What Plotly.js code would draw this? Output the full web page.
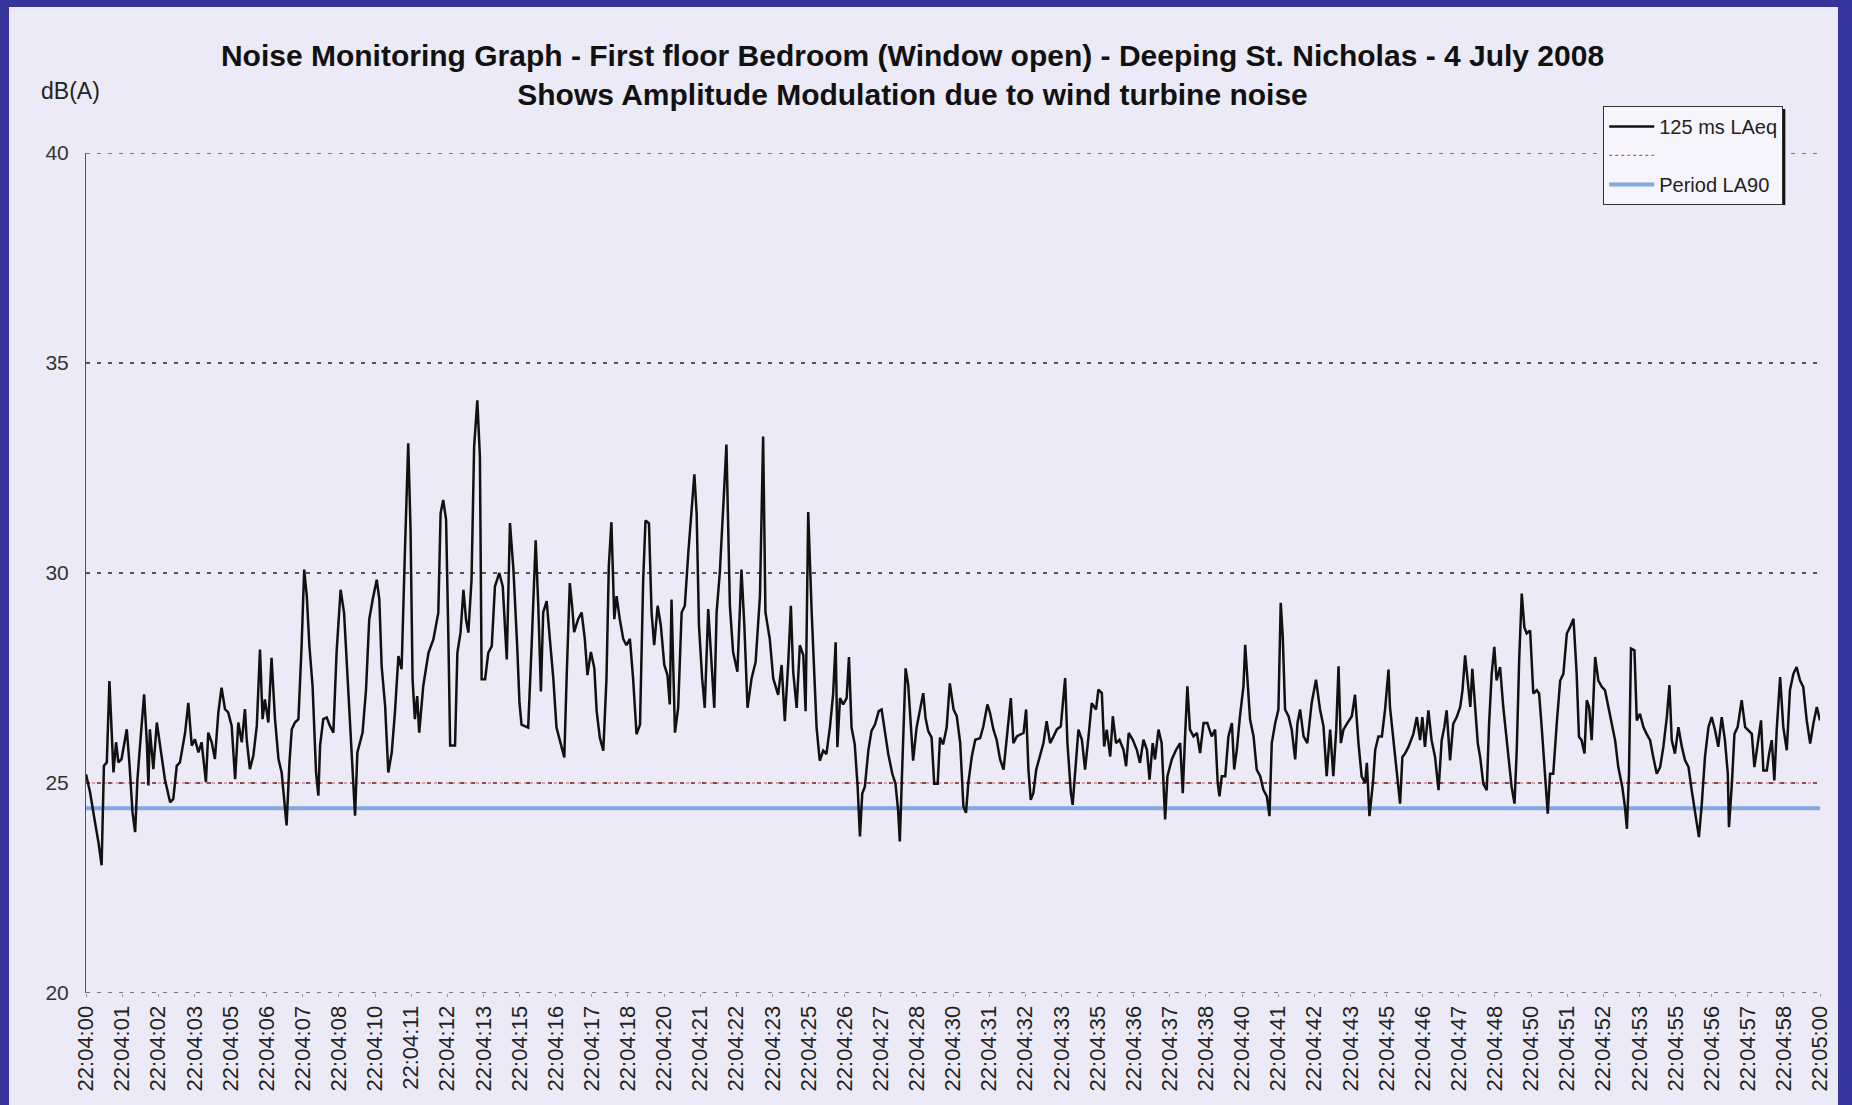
<!DOCTYPE html>
<html><head><meta charset="utf-8">
<script src="https://cdn.plot.ly/plotly-3.0.1.min.js"></script>
<style>
html,body{margin:0;padding:0;background:#36349a;width:1852px;height:1105px;overflow:hidden;}
#chart{position:absolute;left:9px;top:7px;width:1829px;height:1098px;}
</style></head><body><div id="chart"></div>
<script>
// seconds after 22:04:00
const timeSec = [
0.00,0.14,0.31,0.43,0.54,0.62,0.72,0.81,0.89,0.95,1.04,1.12,1.23,1.29,1.41,1.50,1.61,1.70,1.78,1.87,
2.01,2.10,2.16,2.21,2.33,2.45,2.56,2.73,2.91,3.02,3.14,3.25,3.43,3.54,3.66,3.77,3.89,4.00,4.15,4.23,
4.35,4.46,4.58,4.69,4.81,4.92,5.04,5.16,5.27,5.39,5.50,5.56,5.67,5.79,5.91,6.02,6.11,6.19,6.31,6.42,
6.54,6.66,6.77,6.86,6.94,7.04,7.12,7.23,7.35,7.46,7.55,7.64,7.73,7.84,7.96,8.04,8.10,8.21,8.33,8.44,
8.56,8.67,8.81,8.93,9.02,9.13,9.23,9.31,9.39,9.48,9.57,9.69,9.80,9.92,10.06,10.15,10.23,10.35,10.46,10.58,
10.69,10.81,10.92,11.04,11.15,11.23,11.30,11.38,11.46,11.53,11.67,11.85,12.02,12.19,12.27,12.36,12.46,12.54,12.60,12.77,
12.85,12.96,13.06,13.15,13.23,13.34,13.43,13.54,13.63,13.69,13.81,13.92,14.04,14.15,14.30,14.42,14.56,14.67,14.79,14.92,
15.00,15.07,15.30,15.42,15.56,15.65,15.74,15.82,15.94,16.05,16.17,16.28,16.43,16.55,16.63,16.74,16.82,16.89,17.03,17.15,
17.26,17.35,17.47,17.59,17.67,17.78,17.90,18.01,18.09,18.18,18.28,18.36,18.47,18.59,18.70,18.82,18.93,19.05,19.17,19.28,
19.36,19.48,19.57,19.66,19.78,19.89,20.01,20.12,20.20,20.26,20.38,20.49,20.61,20.72,20.84,20.95,21.05,21.13,21.21,21.32,
21.41,21.53,21.64,21.74,21.82,21.93,22.05,22.16,22.28,22.39,22.54,22.68,22.78,22.89,23.03,23.17,23.32,23.43,23.51,23.66,
23.78,23.95,24.07,24.18,24.30,24.39,24.47,24.59,24.70,24.82,24.90,24.99,25.11,25.20,25.28,25.39,25.51,25.62,25.74,25.85,
25.94,26.00,26.09,26.20,26.32,26.40,26.49,26.60,26.70,26.78,26.86,26.95,27.07,27.18,27.30,27.43,27.53,27.64,27.76,27.90,
28.01,28.10,28.16,28.24,28.36,28.45,28.54,28.62,28.74,28.85,28.97,29.05,29.14,29.26,29.35,29.47,29.55,29.66,29.78,29.89,
30.02,30.13,30.25,30.36,30.45,30.53,30.65,30.77,30.94,31.05,31.19,31.28,31.40,31.51,31.63,31.75,31.86,32.00,32.09,32.21,
32.32,32.44,32.53,32.61,32.69,32.78,32.88,33.01,33.13,33.24,33.36,33.48,33.59,33.73,33.88,33.96,34.08,34.14,34.23,34.34,
34.46,34.57,34.69,34.80,34.95,35.03,35.15,35.23,35.32,35.44,35.53,35.64,35.76,35.90,35.99,36.08,36.22,36.36,36.47,36.59,
36.71,36.80,36.91,36.99,37.11,37.22,37.34,37.42,37.57,37.72,37.86,37.95,38.03,38.11,38.20,38.32,38.44,38.55,38.67,38.80,
38.95,39.07,39.16,39.22,39.30,39.42,39.53,39.65,39.73,39.82,39.93,40.05,40.11,40.19,40.28,40.40,40.51,40.63,40.74,40.86,
40.95,41.03,41.15,41.26,41.34,41.41,41.49,41.61,41.72,41.84,41.92,42.01,42.13,42.26,42.41,42.56,42.70,42.82,42.93,43.05,
43.16,43.26,43.34,43.42,43.51,43.65,43.80,43.91,44.03,44.14,44.26,44.32,44.41,44.53,44.61,44.72,44.84,44.95,45.07,45.12,
45.24,45.35,45.47,45.55,45.64,45.76,45.93,46.05,46.16,46.24,46.33,46.45,46.56,46.68,46.80,46.91,47.00,47.08,47.20,47.31,
47.43,47.55,47.63,47.72,47.81,47.90,47.97,48.06,48.16,48.24,48.35,48.47,48.55,48.64,48.73,48.81,48.93,49.04,49.19,49.33,
49.43,49.51,49.59,49.68,49.77,49.85,49.97,50.08,50.20,50.28,50.37,50.49,50.58,50.66,50.77,50.89,51.01,51.12,51.24,51.35,
51.47,51.58,51.66,51.75,51.85,51.93,52.01,52.10,52.22,52.33,52.45,52.56,52.68,52.79,52.91,53.02,53.16,53.25,53.32,53.39,
53.46,53.58,53.66,53.77,53.89,54.00,54.12,54.23,54.35,54.47,54.58,54.70,54.79,54.87,54.98,55.10,55.22,55.33,55.45,55.56,
55.70,55.81,55.91,56.02,56.14,56.25,56.37,56.48,56.60,56.71,56.81,56.85,56.95,57.04,57.15,57.29,57.41,57.52,57.64,57.73,
57.85,57.96,58.04,58.16,58.24,58.33,58.42,58.50,58.62,58.73,58.85,58.96,59.08,59.19,59.31,59.42,59.54,59.66,59.77,59.89,
60.00];

// 125 ms LAeq, dB(A)
const laeq = [
25.21,24.78,24.07,23.59,23.04,25.41,25.49,27.43,26.20,25.25,25.97,25.49,25.57,25.81,26.28,25.49,24.30,23.83,25.09,25.89,
27.11,26.04,24.94,26.28,25.33,26.44,25.89,25.09,24.54,24.62,25.41,25.49,26.20,26.91,25.89,26.04,25.73,25.97,25.02,26.20,
25.97,25.57,26.68,27.27,26.76,26.68,26.36,25.09,26.44,25.97,26.76,26.04,25.33,25.65,26.36,28.18,26.52,26.99,26.44,27.98,
26.52,25.57,25.25,24.54,23.99,25.49,26.28,26.44,26.52,28.26,30.08,29.45,28.26,27.31,25.25,24.70,25.89,26.52,26.56,26.36,
26.20,28.10,29.60,29.05,27.86,26.28,25.09,24.22,25.73,25.97,26.20,27.23,28.89,29.37,29.84,29.37,27.78,26.84,25.25,25.73,
26.68,28.02,27.71,30.63,33.09,31.03,27.47,26.52,27.07,26.20,27.31,28.10,28.42,29.05,31.42,31.74,31.27,28.42,25.89,25.89,
28.10,28.58,29.60,28.89,28.58,29.84,33.01,34.11,32.77,27.47,27.47,28.10,28.26,29.68,30.00,29.68,27.94,31.19,30.08,28.26,
26.90,26.39,26.32,28.28,30.78,29.22,27.18,29.06,29.33,28.43,27.49,26.32,25.92,25.61,27.49,29.76,29.22,28.59,28.90,29.06,
28.43,27.57,28.12,27.73,26.71,26.08,25.77,27.49,30.16,31.21,28.90,29.45,28.90,28.43,28.28,28.43,27.49,26.16,26.39,29.84,
31.25,31.18,29.06,28.28,29.22,28.75,27.81,27.57,26.87,29.37,26.20,26.79,29.06,29.22,30.47,31.57,32.35,31.41,28.75,27.49,
26.79,29.14,27.88,26.79,29.06,30.00,31.57,33.06,29.22,28.12,27.65,30.08,28.75,26.79,27.49,27.88,29.45,33.25,29.06,28.43,
27.49,27.10,27.81,26.47,27.88,29.22,27.65,26.79,28.28,28.04,26.71,31.45,29.06,27.49,26.32,25.53,25.77,25.69,26.32,27.10,
28.35,25.85,27.02,26.87,27.02,28.00,26.32,25.92,24.91,23.73,24.75,24.91,25.77,26.24,26.39,26.71,26.75,26.24,25.69,25.22,
24.98,24.36,23.61,25.30,27.73,27.34,26.24,25.53,26.32,26.71,27.14,26.55,26.24,26.08,24.98,24.98,26.08,25.92,26.32,27.37,
26.75,26.59,25.95,24.44,24.29,25.00,25.63,26.03,26.07,26.35,26.87,26.67,26.27,26.03,25.56,25.32,26.03,27.02,25.95,26.11,
26.15,26.19,26.75,25.32,24.60,24.76,25.32,25.63,25.95,26.47,25.95,26.11,26.27,26.35,27.50,25.95,24.76,24.48,25.32,26.27,
26.03,25.32,26.11,26.90,26.75,27.22,27.14,25.87,26.27,25.63,26.59,25.95,26.03,25.79,25.40,26.19,26.03,25.79,25.48,26.03,
25.79,25.08,25.95,25.56,26.27,25.95,24.13,25.16,25.56,25.79,25.95,24.76,26.11,27.30,26.27,26.11,26.19,25.71,26.43,26.43,
26.11,26.27,25.00,24.68,25.16,25.16,26.11,26.43,25.32,25.79,26.59,27.30,28.29,27.38,26.51,26.11,25.32,25.16,24.84,24.68,
24.21,25.95,26.43,26.75,29.29,28.49,26.75,26.59,26.27,25.56,26.43,26.75,26.11,25.95,26.90,27.46,26.75,26.35,25.16,26.27,
25.16,26.27,27.78,25.95,26.27,26.43,26.59,27.10,25.95,25.16,25.00,25.48,24.21,25.00,25.79,26.11,26.11,26.75,27.70,26.81,
26.02,25.22,24.51,25.62,25.70,25.86,26.17,26.57,26.02,26.57,25.86,26.73,26.02,25.62,24.83,26.02,26.33,26.73,25.54,26.41,
26.57,26.81,27.21,28.04,27.44,26.81,27.72,26.81,25.94,25.62,24.98,24.83,26.41,27.60,28.24,27.44,27.76,26.81,25.86,24.90,
24.51,25.86,27.92,29.51,28.71,28.56,28.63,27.13,27.21,27.13,26.33,25.22,24.27,25.22,25.22,26.41,27.44,27.60,28.56,28.71,
28.91,27.60,26.10,26.02,25.70,26.97,26.81,26.02,28.00,27.44,27.29,27.21,26.81,26.41,26.02,25.38,24.90,24.43,23.91,25.22,
28.20,28.16,26.49,26.65,26.33,26.17,26.02,25.62,25.22,25.38,25.86,26.57,27.33,26.02,25.70,26.33,25.86,25.54,25.38,24.83,
24.19,23.71,24.51,25.62,26.33,26.57,26.25,25.86,26.57,26.02,25.22,23.95,24.98,26.17,26.33,26.97,26.33,26.25,26.17,25.38,
26.02,26.49,25.30,25.30,25.70,26.02,25.06,26.25,27.52,26.33,25.78,27.21,27.60,27.76,27.44,27.29,26.49,25.94,26.41,26.81,
26.49];

const periodTime = [0, 60];
const la90 = [24.4, 24.4];
const refLevel = [25, 25];

const tickSeconds = [0,1.25,2.5,3.75,5,6.25,7.5,8.75,10,11.25,12.5,13.75,15,16.25,17.5,18.75,20,21.25,22.5,23.75,
25,26.25,27.5,28.75,30,31.25,32.5,33.75,35,36.25,37.5,38.75,40,41.25,42.5,43.75,45,46.25,47.5,48.75,
50,51.25,52.5,53.75,55,56.25,57.5,58.75,60];
const tickLabels = ["22:04:00","22:04:01","22:04:02","22:04:03","22:04:05","22:04:06","22:04:07","22:04:08",
"22:04:10","22:04:11","22:04:12","22:04:13","22:04:15","22:04:16","22:04:17","22:04:18",
"22:04:20","22:04:21","22:04:22","22:04:23","22:04:25","22:04:26","22:04:27","22:04:28",
"22:04:30","22:04:31","22:04:32","22:04:33","22:04:35","22:04:36","22:04:37","22:04:38",
"22:04:40","22:04:41","22:04:42","22:04:43","22:04:45","22:04:46","22:04:47","22:04:48",
"22:04:50","22:04:51","22:04:52","22:04:53","22:04:55","22:04:56","22:04:57","22:04:58","22:05:00"];
const yTicks = [20,25,30,35,40];
const yMin = 20, yMax = 40;

const bg = 'rgb(236,234,246)';
const fontFam = '"Liberation Sans", Arial, sans-serif';
const gridStyle = {color: '#555', width: 1.6, dash: '4px,7px'};

const traces = [
  {x: periodTime, y: refLevel, type: 'scatter', mode: 'lines', name: ' ',
   line: {color: '#e05060', width: 1.2, dash: 'dot'}, legendgroup: 'b', legendrank: 2},
  {x: periodTime, y: la90, type: 'scatter', mode: 'lines', name: 'Period LA90',
   line: {color: '#80a8e4', width: 4}, legendgroup: 'c', legendrank: 3},
  {x: timeSec, y: laeq, type: 'scatter', mode: 'lines', name: '125 ms LAeq',
   line: {color: '#111111', width: 2.5}, legendgroup: 'a', legendrank: 1}
];

const layout = {
  width: 1829, height: 1098,
  paper_bgcolor: bg, plot_bgcolor: bg,
  margin: {l: 77, r: 18, t: 146, b: 112},
  font: {family: fontFam, color: '#1a1a1a'},
  title: {
    text: '<b>Noise Monitoring Graph - First floor Bedroom (Window open) - Deeping St. Nicholas - 4 July 2008</b><br><b>Shows Amplitude Modulation due to wind turbine noise</b>',
    font: {family: fontFam, size: 30, color: '#111'},
    xref: 'container', x: 0.494, xanchor: 'center',
    yref: 'container', y: 0.946, yanchor: 'middle'
  },
  xaxis: {
    range: [0, 60], tickmode: 'array', tickvals: tickSeconds, ticktext: tickLabels,
    tickangle: -90, tickfont: {size: 22, color: '#222'},
    showgrid: false, zeroline: false, showline: false,
    ticks: 'outside', ticklen: 3, tickcolor: '#999', tickwidth: 1
  },
  yaxis: {
    range: [yMin, yMax], tickmode: 'array', tickvals: yTicks,
    tickfont: {size: 21, color: '#333'},
    showgrid: true, gridcolor: gridStyle.color, gridwidth: gridStyle.width, griddash: gridStyle.dash,
    zeroline: false, showline: true, linecolor: '#555', linewidth: 1,
    ticks: '', ticklabelstandoff: 12
  },
  legend: {
    x: 0.875, y: 1.056, xanchor: 'left', yanchor: 'top',
    bgcolor: '#f6f5fb', bordercolor: '#333', borderwidth: 1,
    font: {size: 20, color: '#222'}, itemwidth: 45, tracegroupgap: 0,
    traceorder: 'grouped'
  },
  shapes: [
    {type: 'line', xref: 'paper', yref: 'y', x0: 0, x1: 1, y0: yMax, y1: yMax,
     line: gridStyle, layer: 'below'},
    {type: 'line', xref: 'paper', yref: 'y', x0: 0, x1: 1, y0: yMin, y1: yMin,
     line: gridStyle, layer: 'below'},
    {type: 'rect', xref: 'paper', yref: 'paper', x0: 0.8766, x1: 0.9800, y0: 0.9380, y1: 1.0524,
     fillcolor: '#111', line: {width: 0}, layer: 'above'}
  ],
  annotations: [
    {text: 'dB(A)', xref: 'paper', yref: 'paper', x: -0.027, y: 1.074,
     xanchor: 'left', yanchor: 'middle', showarrow: false,
     font: {size: 23, color: '#222'}}
  ]
};
Plotly.newPlot('chart', traces, layout, {displayModeBar: false, staticPlot: true});
</script></body></html>
